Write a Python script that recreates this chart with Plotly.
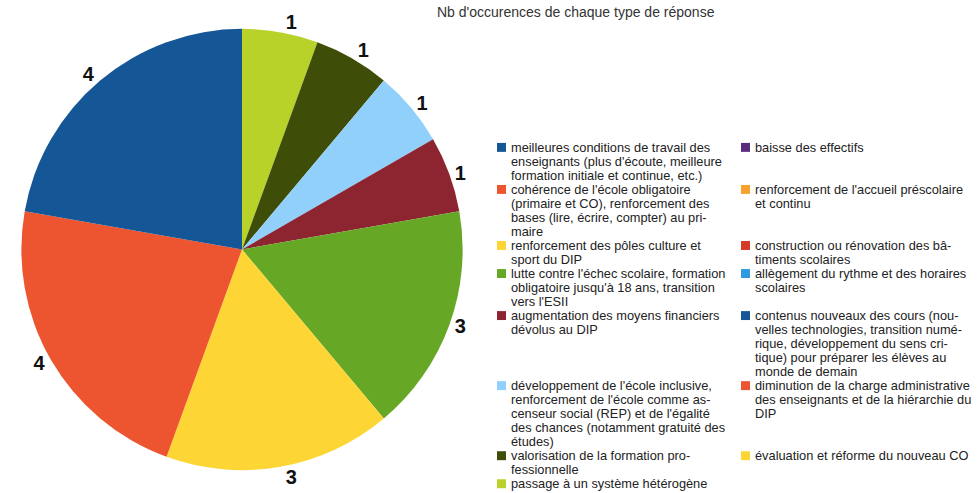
import plotly.graph_objects as go

# ---- data ----
categories = [
    "meilleures conditions de travail des\nenseignants (plus d'écoute, meilleure\nformation initiale et continue, etc.)",
    "baisse des effectifs",
    "cohérence de l'école obligatoire\n(primaire et CO), renforcement des\nbases (lire, écrire, compter) au pri-\nmaire",
    "renforcement de l'accueil préscolaire\net continu",
    "renforcement des pôles culture et\nsport du DIP",
    "construction ou rénovation des bâ-\ntiments scolaires",
    "lutte contre l'échec scolaire, formation\nobligatoire jusqu'à 18 ans, transition\nvers l'ESII",
    "allègement du rythme et des horaires\nscolaires",
    "augmentation des moyens financiers\ndévolus au DIP",
    "contenus nouveaux des cours (nou-\nvelles technologies, transition numé-\nrique, développement du sens cri-\ntique) pour préparer les élèves au\nmonde de demain",
    "développement de l'école inclusive,\nrenforcement de l'école comme as-\ncenseur social (REP) et de l'égalité\ndes chances (notamment gratuité des\nétudes)",
    "diminution de la charge administrative\ndes enseignants et de la hiérarchie du\nDIP",
    "valorisation de la formation pro-\nfessionnelle",
    "évaluation et réforme du nouveau CO",
    "passage à un système hétérogène",
]
values = [4, 0, 4, 0, 3, 0, 3, 0, 1, 0, 1, 0, 1, 0, 1]
colors = [
    "#145696", "#5a2c80", "#ed5530", "#f8a12e", "#fdd636", "#d63b2a",
    "#66a826", "#2e9ae0", "#8d2530", "#145696", "#90d0fa", "#ed5530",
    "#3e4e08", "#fdd636", "#b8d22a",
]
title = "Nb d'occurences de chaque type de réponse"

W, H = 978, 493
FONT = "Liberation Sans"

# pie geometry (pixels)
cx, cy, r = 242, 251, 222

# slices run counterclockwise from 12 o'clock in the reference:
# feed them reversed to a clockwise pie
rev = slice(None, None, -1)
fig = go.Figure(go.Pie(
    labels=[c.replace("\n", " ") for c in categories][rev],
    values=values[rev],
    text=[str(v) if v else "" for v in values][rev],
    textinfo="text",
    textposition="outside",
    outsidetextfont=dict(family=FONT, size=20, color="#111111", weight="bold"),
    marker=dict(colors=colors[rev], line=dict(width=0)),
    sort=False,
    direction="clockwise",
    rotation=0,
    showlegend=False,
    hoverinfo="label+value",
    domain=dict(x=[(cx - r) / W, (cx + r) / W],
                y=[1 - (cy + r) / H, 1 - (cy - r) / H]),
))

annotations = [dict(
    text=title, x=576 / W, y=1 - 12 / H, xref="paper", yref="paper",
    xanchor="center", yanchor="middle", showarrow=False,
    font=dict(family=FONT, size=14, color="#333333"),
)]
shapes = []

# manual two-column legend
line_h = 14.1
y0 = 148.3
col_sq = [497, 741]
col_tx = [510, 754]
sq = 9
y = y0
for row in range(0, len(categories), 2):
    idxs = [i for i in (row, row + 1) if i < len(categories)]
    nlines = 1
    for c, i in enumerate(idxs):
        lines = categories[i].split("\n")
        nlines = max(nlines, len(lines))
        shapes.append(dict(
            type="rect", xref="paper", yref="paper",
            x0=col_sq[c] / W, x1=(col_sq[c] + sq) / W,
            y0=1 - (y + sq / 2) / H, y1=1 - (y - sq / 2) / H,
            fillcolor=colors[i], line=dict(width=0),
        ))
        for k, ln in enumerate(lines):
            annotations.append(dict(
                text=ln, x=col_tx[c] / W, y=1 - (y + k * line_h) / H,
                xref="paper", yref="paper", xanchor="left", yanchor="middle",
                showarrow=False, borderpad=0,
                font=dict(family=FONT, size=12.8, color="#222222"),
            ))
    y += nlines * line_h

fig.update_layout(
    width=W, height=H,
    margin=dict(l=0, r=0, t=0, b=0),
    paper_bgcolor="white", plot_bgcolor="white",
    annotations=annotations, shapes=shapes,
    font=dict(family=FONT),
)

fig.write_html(
    "out.html",
    config={"displayModeBar": False},
    post_script="document.body.style.margin='0';document.body.style.padding='0';",
)
